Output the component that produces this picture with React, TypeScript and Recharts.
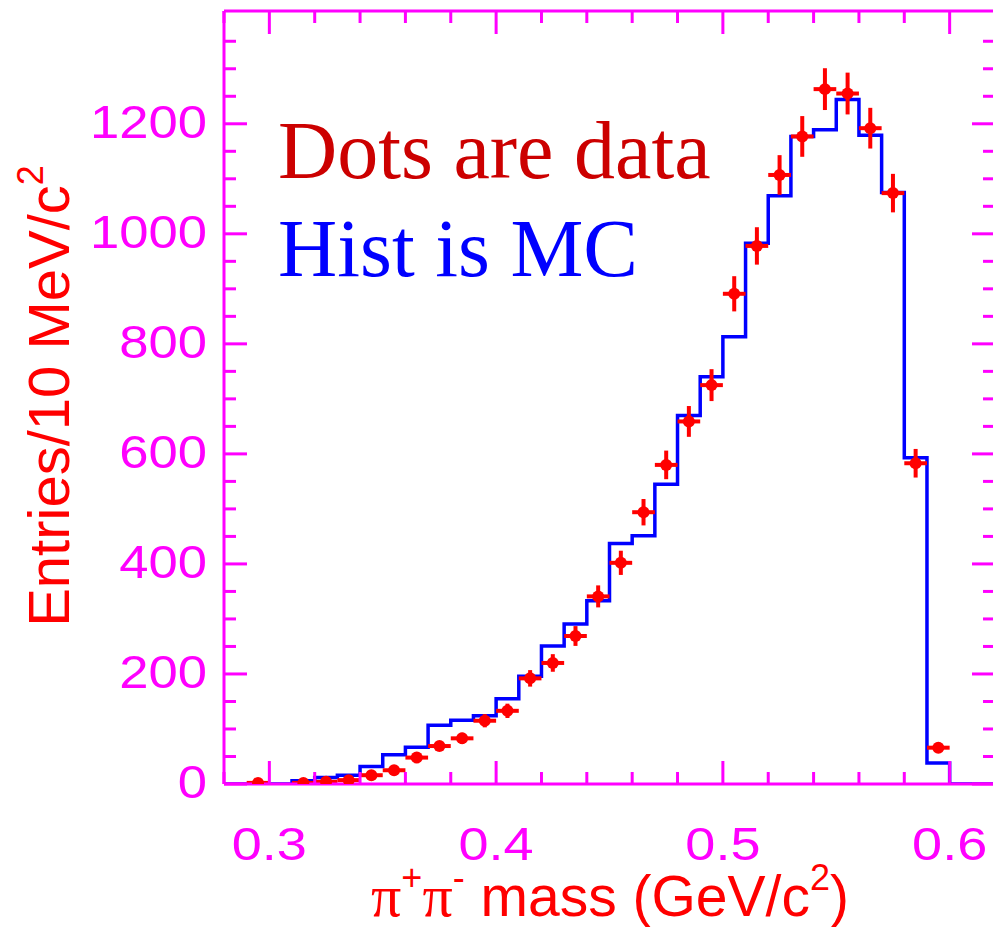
import React from 'react';
import { ComposedChart, Line, Scatter, XAxis, YAxis, ErrorBar } from 'recharts';

// Monte Carlo histogram: lower bin edges (GeV/c^2) and entries per 10 MeV/c^2
const MC_BIN_LOW = [0.28, 0.29, 0.30, 0.31, 0.32, 0.33, 0.34, 0.35, 0.36, 0.37, 0.38, 0.39, 0.40, 0.41, 0.42, 0.43, 0.44, 0.45, 0.46, 0.47, 0.48, 0.49, 0.50, 0.51, 0.52, 0.53, 0.54, 0.55, 0.56, 0.57, 0.58, 0.59, 0.60, 0.61, 0.62];
const MC_COUNTS = [0, 0, 0, 6, 12, 16, 32, 53, 67, 107, 116, 124, 155, 196, 251, 291, 333, 437, 451, 545, 670, 740, 813, 983, 1069, 1177, 1189, 1244, 1179, 1075, 593, 38, 0, 0, 0];

// Data points: bin centres, entries, vertical errors
const DATA_MASS = [0.295, 0.315, 0.325, 0.335, 0.345, 0.355, 0.365, 0.375, 0.385, 0.395, 0.405, 0.415, 0.425, 0.435, 0.445, 0.455, 0.465, 0.475, 0.485, 0.495, 0.505, 0.515, 0.525, 0.535, 0.545, 0.555, 0.565, 0.575, 0.585, 0.595];
const DATA_COUNTS = [2, 2, 4, 7, 16, 25, 48, 69, 83, 115, 133, 192, 220, 269, 341, 402, 494, 580, 659, 725, 891, 978, 1107, 1177, 1263, 1255, 1192, 1074, 583, 66];
const DATA_ERR = [2, 2, 3, 4, 5, 6, 8, 9, 10, 12, 13, 15, 16, 18, 20, 22, 24, 26, 28, 29, 32, 34, 36, 37, 38, 38, 37, 35, 26, 9];
const BIN_HALF_WIDTH = 0.005;

// Axis ticks and labels
const X_TICKS = [0.28, 0.3, 0.32, 0.34, 0.36, 0.38, 0.4, 0.42, 0.44, 0.46, 0.48, 0.5, 0.52, 0.54, 0.56, 0.58, 0.6, 0.62];
const X_MAJOR = [0.3, 0.4, 0.5, 0.6];
const X_LABELS = ['0.3', '0.4', '0.5', '0.6'];
const Y_TICKS = [0, 50, 100, 150, 200, 250, 300, 350, 400, 450, 500, 550, 600, 650, 700, 750, 800, 850, 900, 950, 1000, 1050, 1100, 1150, 1200, 1250, 1300, 1350];
const Y_MAJOR = [0, 200, 400, 600, 800, 1000, 1200];
const Y_LABELS = ['0', '200', '400', '600', '800', '1000', '1200'];

const X_DOMAIN = [0.28, 0.62];
const Y_DOMAIN = [0, 1405];

const MAG = '#ff00ff';
const SANS = '"Liberation Sans", Arial, Helvetica, sans-serif';
const SERIF = '"Liberation Serif", "Times New Roman", serif';

const mcData = MC_BIN_LOW.map((x, i) => ({ x, y: MC_COUNTS[i] }));
const pointData = DATA_MASS.map((x, i) => ({ x, y: DATA_COUNTS[i], err: DATA_ERR[i], xerr: BIN_HALF_WIDTH }));

const xMajorIndex = (v: number) => X_MAJOR.findIndex((m) => Math.abs(m - v) < 1e-6);
const yMajorIndex = (v: number) => Y_MAJOR.findIndex((m) => Math.abs(m - v) < 1e-6);

const BottomTick = (props: any) => {
  const { x, y, payload } = props;
  const idx = xMajorIndex(payload.value);
  const major = idx >= 0;
  const ty = y + 76;
  return (
    <g>
      <line x1={x} x2={x} y1={y} y2={y - (major ? 23 : 12)} stroke={MAG} strokeWidth={3} />
      {major && (
        <text
          x={0}
          y={0}
          transform={`translate(${x} ${ty}) scale(1.15 1)`}
          textAnchor="middle"
          fill={MAG}
          fontSize={47}
          fontFamily={SANS}
        >
          {X_LABELS[idx]}
        </text>
      )}
    </g>
  );
};

const TopTick = (props: any) => {
  const { x, y, payload } = props;
  const major = xMajorIndex(payload.value) >= 0;
  return <line x1={x} x2={x} y1={y} y2={y + (major ? 23 : 12)} stroke={MAG} strokeWidth={3} />;
};

const LeftTick = (props: any) => {
  const { x, y, payload } = props;
  const idx = yMajorIndex(payload.value);
  const major = idx >= 0;
  const tx = x - 17;
  const ty = y + 14;
  return (
    <g>
      <line x1={x} x2={x + (major ? 23 : 12)} y1={y} y2={y} stroke={MAG} strokeWidth={3} />
      {major && (
        <text
          x={0}
          y={0}
          transform={`translate(${tx} ${ty}) scale(1.12 1)`}
          textAnchor="end"
          fill={MAG}
          fontSize={47}
          fontFamily={SANS}
        >
          {Y_LABELS[idx]}
        </text>
      )}
    </g>
  );
};

const RightTick = (props: any) => {
  const { x, y, payload } = props;
  const major = yMajorIndex(payload.value) >= 0;
  return <line x1={x} x2={x - (major ? 23 : 12)} y1={y} y2={y} stroke={MAG} strokeWidth={3} />;
};

const DotShape = (props: any) => {
  const { cx, cy } = props;
  if (cx == null || cy == null) return null;
  return <circle cx={cx} cy={cy} r={6} fill="#ff0000" />;
};

export default function App() {
  return (
    <div style={{ position: 'fixed', left: 0, top: 0, width: 993, height: 927, overflow: 'hidden', background: '#ffffff' }}>
      <ComposedChart width={1000} height={927} margin={{ top: 0, right: 0, bottom: 0, left: 0 }}>
        <XAxis
          xAxisId="bottom"
          dataKey="x"
          type="number"
          domain={X_DOMAIN}
          ticks={X_TICKS}
          interval={0}
          allowDataOverflow
          height={143}
          tickSize={0}
          tickMargin={0}
          tickLine={false}
          axisLine={{ stroke: MAG, strokeWidth: 3 }}
          tick={BottomTick}
        />
        <XAxis
          xAxisId="top"
          orientation="top"
          dataKey="x"
          type="number"
          domain={X_DOMAIN}
          ticks={X_TICKS}
          interval={0}
          allowDataOverflow
          height={11}
          tickSize={0}
          tickMargin={0}
          tickLine={false}
          axisLine={{ stroke: MAG, strokeWidth: 3 }}
          tick={TopTick}
        />
        <YAxis
          yAxisId="left"
          type="number"
          domain={Y_DOMAIN}
          ticks={Y_TICKS}
          interval={0}
          allowDataOverflow
          width={224}
          tickSize={0}
          tickMargin={0}
          tickLine={false}
          axisLine={{ stroke: MAG, strokeWidth: 3 }}
          tick={LeftTick}
        />
        <YAxis
          yAxisId="right"
          orientation="right"
          type="number"
          domain={Y_DOMAIN}
          ticks={Y_TICKS}
          interval={0}
          allowDataOverflow
          width={5}
          tickSize={0}
          tickMargin={0}
          tickLine={false}
          axisLine={false}
          tick={RightTick}
        />
        <Line
          xAxisId="bottom"
          yAxisId="left"
          data={mcData}
          dataKey="y"
          type="stepAfter"
          stroke="#0000ff"
          strokeWidth={3.5}
          dot={false}
          activeDot={false}
          isAnimationActive={false}
        />
        <Scatter
          xAxisId="bottom"
          yAxisId="left"
          data={pointData}
          dataKey="y"
          shape={DotShape}
          isAnimationActive={false}
        >
          <ErrorBar dataKey="err" direction="y" width={0} stroke="#ff0000" strokeWidth={4} isAnimationActive={false} />
          <ErrorBar dataKey="xerr" direction="x" width={0} stroke="#ff0000" strokeWidth={4} isAnimationActive={false} />
        </Scatter>
      </ComposedChart>
      <svg width={993} height={927} style={{ position: 'absolute', left: 0, top: 0, pointerEvents: 'none' }}>
        <text x={278} y={178} fill="#cc0000" fontSize={82} fontFamily={SERIF}>Dots are data</text>
        <text x={278} y={276} fill="#0000ff" fontSize={82} fontFamily={SERIF}>Hist is MC</text>
        <text
          x={69}
          y={396}
          transform="rotate(-90 69 396)"
          textAnchor="middle"
          fill="#ff0000"
          fontSize={58}
          fontFamily={SANS}
        >
          Entries/10 MeV/c<tspan fontSize={36} dy={-26}>2</tspan>
        </text>
        <text x={610} y={916} textAnchor="middle" fill="#ff0000" fontSize={57} fontFamily={SANS}>
          <tspan fontFamily={SERIF} fontSize={60}>π</tspan>
          <tspan fontSize={36} dy={-26}>+</tspan>
          <tspan fontFamily={SERIF} fontSize={60} dy={26}>π</tspan>
          <tspan fontSize={36} dy={-26}>-</tspan>
          <tspan dy={26}> mass (GeV/c</tspan>
          <tspan fontSize={36} dy={-26}>2</tspan>
          <tspan dy={26}>)</tspan>
        </text>
      </svg>
    </div>
  );
}
